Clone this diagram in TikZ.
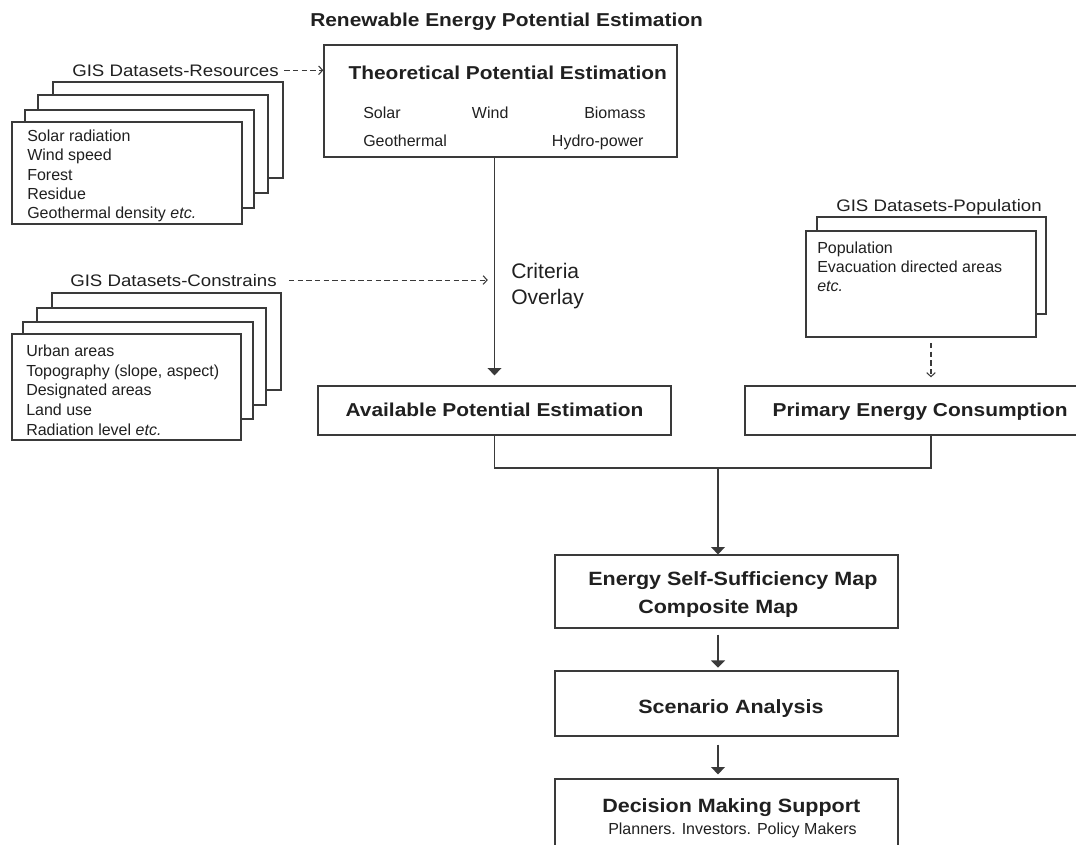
\documentclass[tikz,border=0pt]{standalone}
\usepackage{fontspec}
\setmainfont{Liberation Sans}
\newfontfamily\widesans{Liberation Sans}[FakeStretch=1.12]
\usetikzlibrary{arrows.meta,fit}

\definecolor{ink}{HTML}{202020}
\definecolor{rule}{HTML}{3A3A3A}

\begin{document}
\begin{tikzpicture}[x=0.75pt,y=-0.75pt,
  panel/.style={draw=rule,line width=1pt,fill=white,inner sep=0pt},
  hdtext/.style={font=\widesans\bfseries\fontsize{14}{16}\selectfont,text=ink,inner sep=0pt,anchor=base west},
  hdbig/.style={font=\widesans\bfseries\fontsize{14.4}{16}\selectfont,text=ink,inner sep=0pt,anchor=base west},
  itemtext/.style={font=\fontsize{12}{14}\selectfont,text=ink,inner sep=0pt,anchor=base west},
  setlabel/.style={font=\widesans\fontsize{12.5}{15}\selectfont,text=ink,inner sep=0pt,anchor=base west},
  flowarrow/.style={draw=rule,line width=1pt,-{Triangle[width=10.5pt,length=5.5pt]}},
  feedarrow/.style={draw=rule,line width=0.8pt,dash pattern=on 4pt off 2.5pt,-{Straight Barb[length=3pt,width=6.5pt]}},
  joinline/.style={draw=rule,line width=1pt}
]
\useasboundingbox (0,0) rectangle (1076,844);
\clip (0,0) rectangle (1076,844);

% title
\node[hdtext] (title) at (310,26) {Renewable Energy Potential Estimation};

% resource data sets
\node[panel,fit={(53,82) (283,178)}] (res4) {};
\node[panel,fit={(38,95) (268,193)}] (res3) {};
\node[panel,fit={(25,110) (254,208)}] (res2) {};
\node[panel,fit={(12,122) (242,224)}] (res1) {};
\node[setlabel] (reslabel) at (72,76) {GIS Datasets-Resources};
\foreach \t [count=\i] in {Solar radiation, Wind speed, Forest, Residue, {Geothermal density \textit{etc.}}}
  \node[itemtext,name=resitem\i] at (27,{141.7+19.2*(\i-1)}) {\t};

% constraint data sets
\node[panel,fit={(52,293) (281,390)}] (con4) {};
\node[panel,fit={(37,308) (266,405)}] (con3) {};
\node[panel,fit={(23,322) (253,419)}] (con2) {};
\node[panel,fit={(12,334) (241,440)}] (con1) {};
\node[setlabel] (conlabel) at (70,286) {GIS Datasets-Constrains};
\foreach \t [count=\i] in {Urban areas, {Topography (slope, aspect)}, Designated areas, Land use, {Radiation level \textit{etc.}}}
  \node[itemtext,name=conitem\i] at (26,{356.7+19.6*(\i-1)}) {\t};

% population data sets
\node[panel,fit={(817,217) (1046,314)}] (pop2) {};
\node[panel,fit={(806,231) (1036,337)}] (pop1) {};
\node[setlabel] (poplabel) at (836,211.7) {GIS Datasets-Population};
\node[itemtext] (popitem1) at (817,253) {Population};
\node[itemtext] (popitem2) at (817,272.3) {Evacuation directed areas};
\node[itemtext] (popitem3) at (817,291.6) {\textit{etc.}};

% theoretical potential
\node[panel,fit={(324,45) (677,157)}] (theo) {};
\node[hdtext] (theohead) at (348.3,79.3) {Theoretical Potential Estimation};
\node[itemtext] (solar) at (363,118.3) {Solar};
\node[itemtext] (wind) at (471.7,118.3) {Wind};
\node[itemtext] (biomass) at (584,118.3) {Biomass};
\node[itemtext] (geo) at (363,146) {Geothermal};
\node[itemtext] (hydro) at (551.7,146) {Hydro-power};

% available potential and consumption
\node[panel,fit={(318,386) (671,435)}] (avail) {};
\node[hdtext,anchor=base] (availtext) at (494.5,416) {Available Potential Estimation};
\node[panel,fit={(745,386) (1117,435)}] (primary) {};
\node[hdtext,anchor=base east] (primtext) at (1068,416) {Primary Energy Consumption};

% criteria overlay
\node[itemtext,font=\fontsize{15.8}{18}\selectfont] (crit1) at (511,278) {Criteria};
\node[itemtext,font=\fontsize{15.8}{18}\selectfont] (crit2) at (511,304) {Overlay};

% result chain
\node[panel,fit={(555,555) (898,628)}] (energy) {};
\node[hdbig] (energy1) at (588,585) {Energy Self-Sufficiency Map};
\node[hdbig] (energy2) at (638,613) {Composite Map};
\node[panel,fit={(555,671) (898,736)}] (scen) {};
\node[hdbig] (scentext) at (638,713) {Scenario Analysis};
\node[panel,fit={(555,779) (898,860)}] (decide) {};
\node[hdbig] (decide1) at (602,812.7) {Decision Making Support};
\node[itemtext] (decide2) at (608,834) {Planners. Investors. Policy Makers};

% connectors
\draw[feedarrow,shorten <=4pt] (reslabel.east) -- (reslabel.east -| theo.west);
\draw[feedarrow,shorten <=9pt,shorten >=5pt] (conlabel.east) -- (conlabel.east -| avail.north);
\draw[feedarrow,shorten <=4pt,shorten >=6pt] (pop1.south -| primary.north) -- (primary.north);
\draw[flowarrow,shorten >=7.5pt] (theo.south -| avail.north) -- (avail.north);

\coordinate (spine) at (718,468);
\draw[joinline] (avail.south) |- (spine) -| (primary.south);
\draw[flowarrow] (spine) -- (spine |- energy.north);
\draw[flowarrow,shorten <=4.5pt,shorten >=2pt] (spine |- energy.south) -- (spine |- scen.north);
\draw[flowarrow,shorten <=6pt,shorten >=3pt] (spine |- scen.south) -- (spine |- decide.north);
\end{tikzpicture}
\end{document}
